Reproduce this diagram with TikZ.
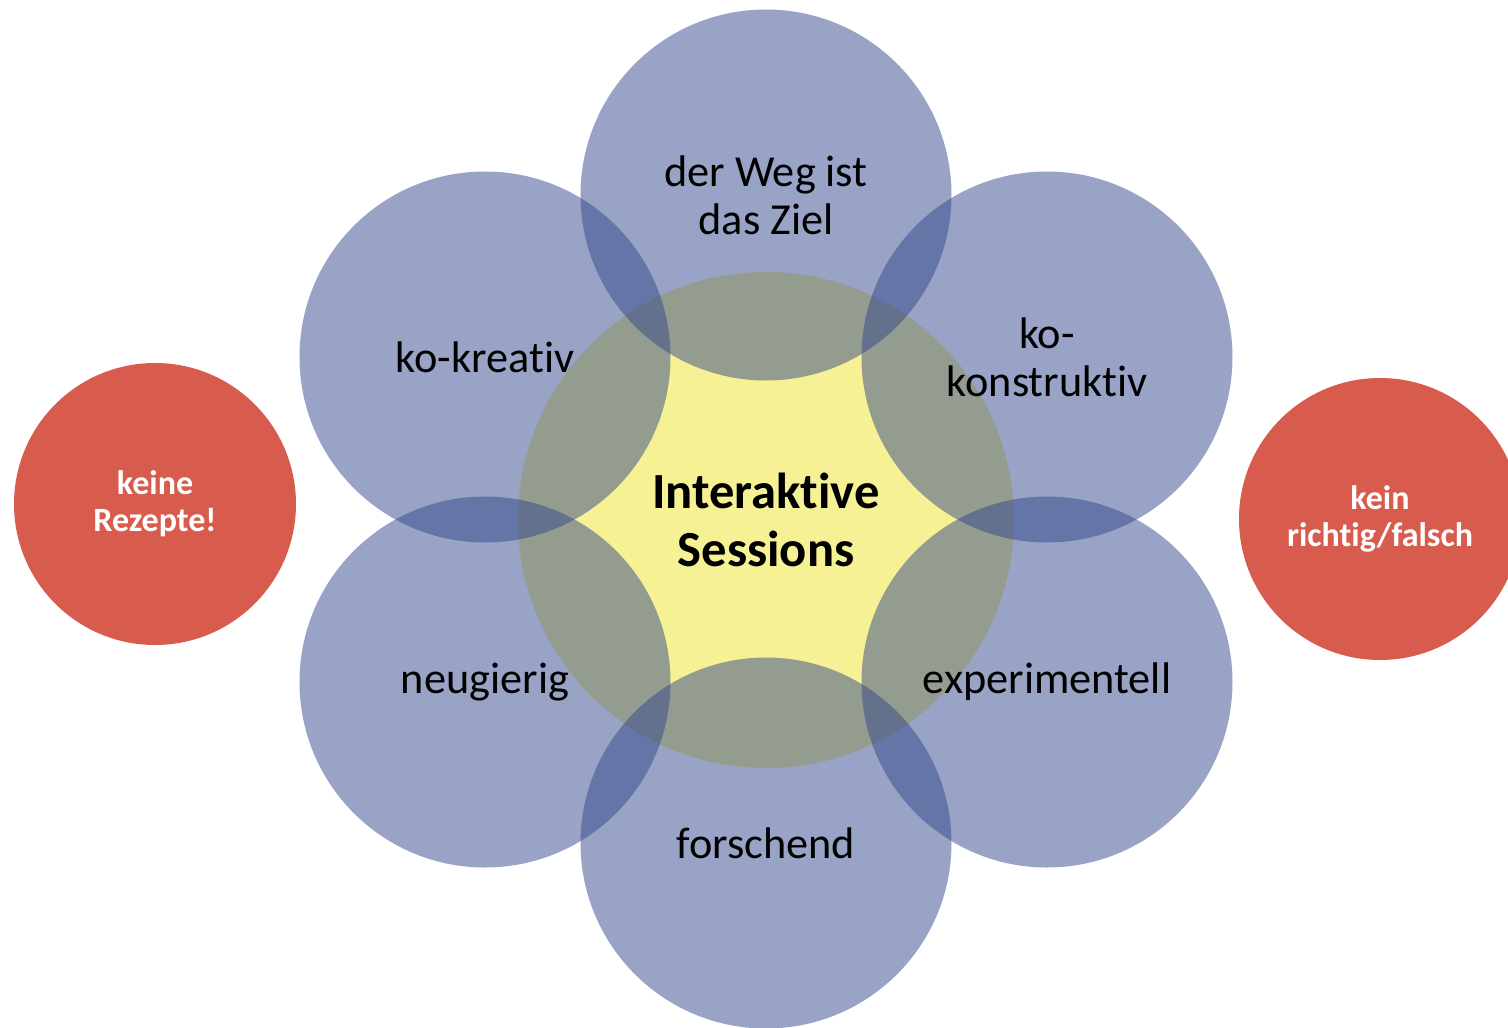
\documentclass[tikz,border=0pt]{standalone}
\usepackage{fontspec}
\setmainfont[Ligatures={NoCommon,NoContextual}]{Carlito}
\definecolor{sessblue}{RGB}{51,72,140}
\definecolor{sessyellow}{RGB}{247,241,150}
\definecolor{sessred}{RGB}{216,92,78}
\begin{document}
\begin{tikzpicture}[x=2.5cm,y=2.5cm,
        core/.style={circle, fill=sessyellow, minimum size=12.4cm, inner sep=0pt, align=center, font=\fontsize{36}{41}\selectfont\bfseries},
        petal/.style={circle, fill=sessblue, fill opacity=0.5, text opacity=1, minimum size=9.275cm, inner sep=0pt, align=center, font=\fontsize{31.5}{34}\selectfont},
        warn/.style={circle, fill=sessred, text=white, minimum size=7.05cm, inner sep=0pt, align=center, font=\fontsize{24.2}{26.3}\selectfont\bfseries}]
        \useasboundingbox (-7.66,-5.07) rectangle (7.42,5.20);
        % centre
        \node[core] (core) at (0,0) {Interaktive\\Sessions};
        % six petals round the centre
        \foreach \x/\y/\n/\l in {0/3.25/weg/{der Weg ist\\das Ziel},-2.81/1.63/kreativ/{ko-kreativ},2.81/1.63/konstr/{ko-\\konstruktiv},-2.81/-1.62/neugier/{neugierig},2.81/-1.62/experim/{experimentell},0/-3.23/forsch/{forschend}}{
            \node[petal] (\n) at (\x,\y) {\l};
        }
        % the two side notes
        \node[warn] (rezepte) at (-6.11,0.16) {keine\\Rezepte!};
        \node[warn] (richtig) at (6.14,0.01) {kein\\richtig/falsch};
    \end{tikzpicture}
\end{document}
